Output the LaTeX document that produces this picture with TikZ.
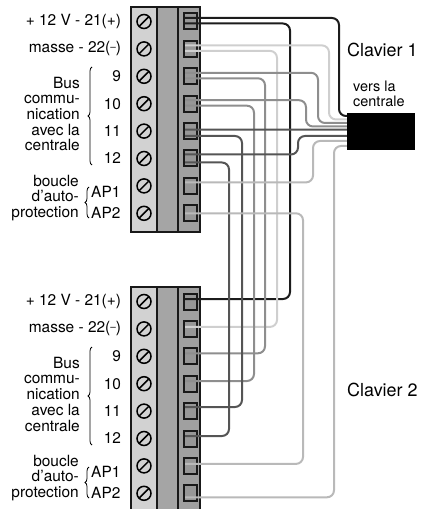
\documentclass[tikz,border=0pt]{standalone}
\usepackage{fontspec}
\setmainfont{TeX Gyre Heros}
\usetikzlibrary{positioning,decorations.pathreplacing}
\definecolor{wblack}{HTML}{1C1C1C}
\definecolor{wlight}{HTML}{CFCFCF}
\definecolor{wmid}{HTML}{8E8E8E}
\definecolor{wdark}{HTML}{555555}
\definecolor{wap}{HTML}{B9B9B9}
\definecolor{stripa}{HTML}{D2D2D2}
\definecolor{stripb}{HTML}{A5A5A5}
\definecolor{stripc}{HTML}{A0A0A0}
\definecolor{plugfill}{HTML}{979797}
\begin{document}
\begin{tikzpicture}[x=1bp, y=-1bp,
  strip/.style={draw=black!90, line width=1.6bp},
  screw/.style={circle, draw=black, line width=1.5bp, minimum size=14bp, inner sep=0},
  plug/.style={draw=black!90, fill=plugfill, line width=2bp, minimum width=13bp, minimum height=16bp, inner sep=0},
  wire/.style={line width=2bp, rounded corners=7bp},
  lbl/.style={font=\fontsize{15.5}{15.8}\selectfont, inner sep=0},
  brace/.style={decorate, decoration={brace, amplitude=4bp}, line width=0.8bp}]
\useasboundingbox (0,0) rectangle (425,509);
\clip (0,0) rectangle (425,509);
\foreach \blk/\yt/\yb/\dy in {a/7/232/0, b/287/515/280} {
  \draw[strip, fill=stripa] (131,\yt) rectangle (157,\yb);
  \draw[strip, fill=stripb] (157,\yt) rectangle (178,\yb);
  \draw[strip, fill=stripc] (178,\yt) rectangle (200,\yb);
  \foreach \i in {1,...,8} {
    \pgfmathsetmacro\ry{\yt+14.5+27.4*(\i-1)}
    \node[screw] (s\blk\i) at (144,\ry) {};
    \draw[line width=1.5bp] ([shift={(-4.5bp,-4.5bp)}]s\blk\i.center) -- ([shift={(4.5bp,4.5bp)}]s\blk\i.center);
    \node[plug] (t\blk\i) at (190,\ry) {};
  }
  \node[lbl, left=15bp of s\blk1] (v\blk) {+ 12 V - 21(+)};
  \node[lbl, left=15bp of s\blk2] (m\blk) {masse - 22(\raisebox{.35ex}{\fontsize{10}{10}\selectfont –})};
  \foreach \i/\n in {3/9, 4/10, 5/11, 6/12}
    \node[lbl, left=15bp of s\blk\i] (n\blk\i) {\n};
  \node[lbl, align=right, anchor=east] (bus\blk) at (80,114+\dy) {Bus\\commu-\\nication\\avec la\\centrale};
  \draw[brace] (92,165+\dy) -- (92,67+\dy);
  \node[lbl, anchor=west] (apa\blk) at (91,192+\dy) {AP1};
  \node[lbl, anchor=west] (apb\blk) at (91,213+\dy) {AP2};
  \node[lbl, align=right, anchor=east] (boucle\blk) at (79,198+\dy) {boucle\\d’auto-\\protection};
  \draw[brace] (89,218+\dy) -- (89,187+\dy);
}
\node[fill=black, minimum width=68bp, minimum height=37bp, inner sep=0] (centrale) at (381,131.5) {};
\node[lbl, font=\fontsize{18}{20}\selectfont, anchor=west] (clav1) at (347,50) {Clavier 1};
\node[lbl, font=\fontsize{14.5}{14.5}\selectfont, align=left, anchor=west] (vers) at (353,94) {vers la\\centrale};
\node[lbl, font=\fontsize{18}{20}\selectfont, anchor=west] (clav2) at (347,390) {Clavier 2};
\draw[wire, wblack] ([shift={(-5bp,-2bp)}]ta1.center) -| (290,299) -- ([shift={(-5bp,2.5bp)}]tb1.center);
\draw[wire, wlight] ([shift={(-5bp,-2bp)}]ta2.center) -| (277,326.9) -- ([shift={(-5bp,2bp)}]tb2.center);
\draw[wire, wmid] ([shift={(-5bp,-2bp)}]ta3.center) -| (265,353.3) -- ([shift={(-5bp,3bp)}]tb3.center);
\draw[wire, wmid] ([shift={(-5bp,-2bp)}]ta4.center) -| (254,381) -- ([shift={(-5bp,2.7bp)}]tb4.center);
\draw[wire, wdark] ([shift={(-5bp,-4.9bp)}]ta5.center) -| (242,407) -- ([shift={(-5bp,4.1bp)}]tb5.center);
\draw[wire, wdark] ([shift={(-5bp,-4bp)}]ta6.center) -| (229,436) -- ([shift={(-5bp,2.5bp)}]tb6.center);
\draw[wire, wap] ([shift={(-5bp,0bp)}]ta8.center) -| (303,463.9) -- ([shift={(-5bp,2bp)}]tb7.center);
\draw[wire, wblack] ([shift={(-5bp,3.5bp)}]ta1.center) -| (339,116) -- ([yshift=15.5bp]centrale.west);
\draw[wire, wlight] ([shift={(-5bp,3.5bp)}]ta2.center) -| (329,119.5) -- ([yshift=12bp]centrale.west);
\draw[wire, wmid] ([shift={(-5bp,3.5bp)}]ta3.center) -| (318,123) -- ([yshift=8.5bp]centrale.west);
\draw[wire, wmid] ([shift={(-5bp,3.5bp)}]ta4.center) -| (306,126.5) -- ([yshift=5bp]centrale.west);
\draw[wire, wdark] ([shift={(-5bp,1.5bp)}]ta5.center) -- ([yshift=1.9bp]centrale.west);
\draw[wire, wdark] ([shift={(-5bp,4bp)}]ta6.center) -| (298,136) -- ([yshift=-4.5bp]centrale.west);
\draw[wire, wap] ([shift={(-5bp,3.5bp)}]ta7.center) -| (313,141) -- ([yshift=-9.5bp]centrale.west);
\draw[wire, wap] ([shift={(-5bp,-4bp)}]tb8.center) -| (334,146) -- ([yshift=-14.5bp]centrale.west);
\end{tikzpicture}
\end{document}
